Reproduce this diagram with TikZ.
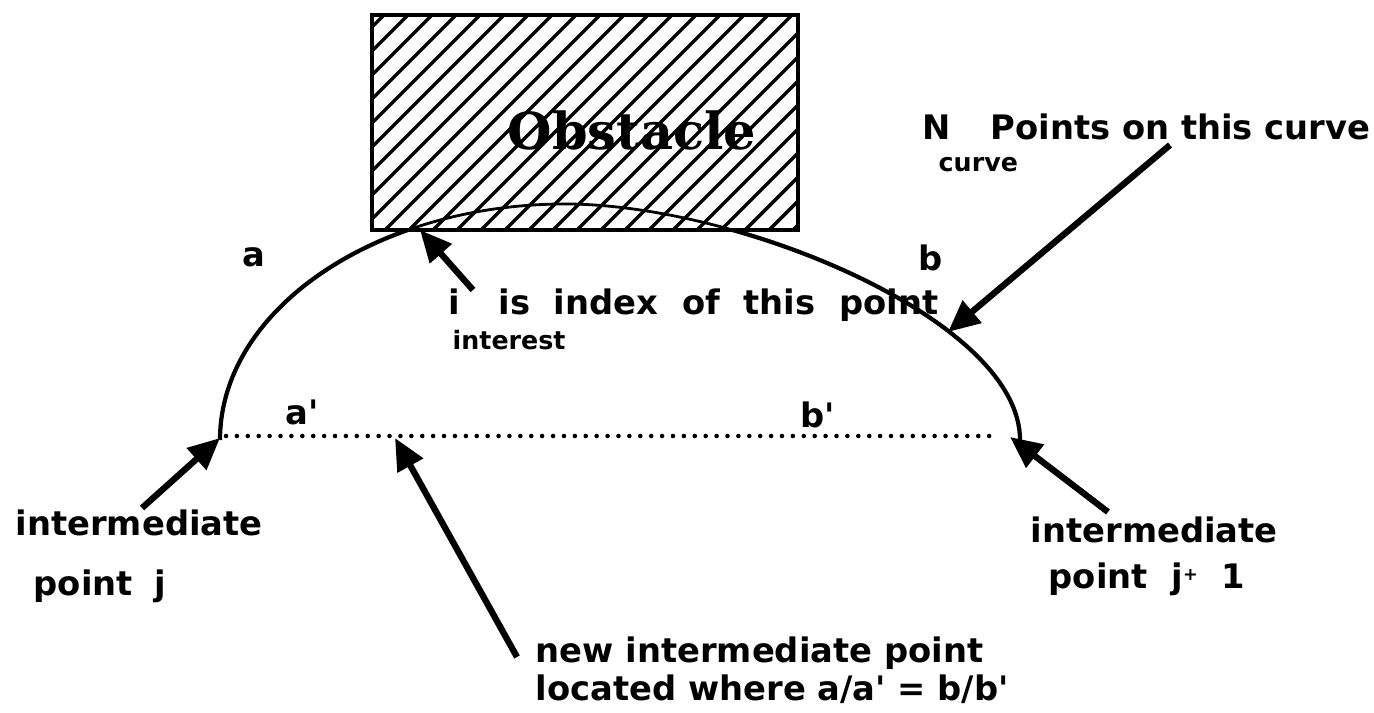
\documentclass[tikz,border=0pt]{standalone}
\usepackage{fontspec}
\setmainfont{DejaVu Sans}
\newfontfamily\obsfont{DejaVu Serif}
\usetikzlibrary{arrows.meta}
\tikzset{
  lbl/.style={font=\bfseries\fontsize{9.6}{11}\selectfont,inner sep=0pt,anchor=base west},
  sublbl/.style={font=\bfseries\fontsize{7.2}{9}\selectfont,inner sep=0pt,anchor=base west},
  pointer/.style={line width=1.8pt,-{Triangle[length=9pt,width=8pt]}},
  hatch/.style={line width=1pt},
  dotline/.style={line width=1.3pt,line cap=round,dash pattern=on 0pt off 3.1pt},
}
\begin{document}
\begin{tikzpicture}[x=0.01cm,y=-0.01cm]
  \useasboundingbox (0,0) rectangle (1374,713);
  \begin{scope}
    \clip (372,15) rectangle (798,230);
    \foreach \k in {384,408,...,1030}
      \draw[hatch] (\k,15) -- ++(-215,215);
  \end{scope}
  \begin{scope}
    \clip (372,15) rectangle (798,230);
    \draw[line width=0.8pt] (220,440) .. controls (220,310) and (375,204) .. (565,204)
      .. controls (740,204) and (1020,320) .. (1020,440);
  \end{scope}
  \begin{scope}
    \clip (0,230) rectangle (1374,713);
    \draw[line width=1.2pt] (220,440) .. controls (220,310) and (375,204) .. (565,204)
      .. controls (740,204) and (1020,320) .. (1020,440);
  \end{scope}
  \draw[line width=1.2pt] (372,15) rectangle (798,230);
  \node[font=\obsfont\bfseries\fontsize{14.5}{16}\selectfont,inner sep=0pt] (obst) at (632,130) {Obstacle};

  \node[lbl] (la) at (242,267) {a};
  \node[lbl] (lb) at (918,271) {b};
  \node[lbl] (lap) at (285,425) {a\textquotesingle};
  \node[lbl] (lbp) at (800,428) {b\textquotesingle};
  \node[lbl] (li) at (448,315) {i};
  \node[sublbl] (lint) at (452,350) {interest};
  \node[lbl] (lidx) at (498,315) {\spaceskip=0.7em is index of this point};
  \node[lbl] (ln) at (922,140) {N};
  \node[sublbl] (lcurve) at (938,172) {curve};
  \node[lbl] (lpts) at (990,140) {Points on this curve};
  \node[lbl] (ljl1) at (15,535) {intermediate};
  \node[lbl] (ljl2) at (33,595) {point\hspace{0.65em}j};
  \node[lbl] (ljr1) at (1030,542) {intermediate};
  \node[lbl] (ljr2) at (1048,588) {point\hspace{0.7em}j\raisebox{2pt}{\fontsize{5}{6}\selectfont+}\hspace{0.7em}1};
  \node[lbl] (lnew1) at (535,662) {new intermediate point};
  \node[lbl] (lnew2) at (535,700) {located where a/a\textquotesingle{} = b/b\textquotesingle};

  \coordinate (tipI) at (420,230);
  \coordinate (tipN) at (948,332);
  \coordinate (tipJ) at (220,438);
  \coordinate (tipJJ) at (1010,437);
  \coordinate (tipNew) at (395,438);
  \coordinate (tailI) at (473,290);
  \coordinate (tailN) at (1170,145);
  \coordinate (tailJ) at (142,508);
  \coordinate (tailJJ) at (1108,512);
  \coordinate (tailNew) at (517,657);
  \coordinate (dotA) at (226,436);
  \coordinate (dotB) at (995,436);

  \draw[dotline] (dotA) -- (dotB);
  \draw[pointer] (tailI) -- (tipI);
  \draw[pointer] (tailN) -- (tipN);
  \draw[pointer] (tailJ) -- (tipJ);
  \draw[pointer] (tailJJ) -- (tipJJ);
  \draw[pointer] (tailNew) -- (tipNew);
\end{tikzpicture}
\end{document}
